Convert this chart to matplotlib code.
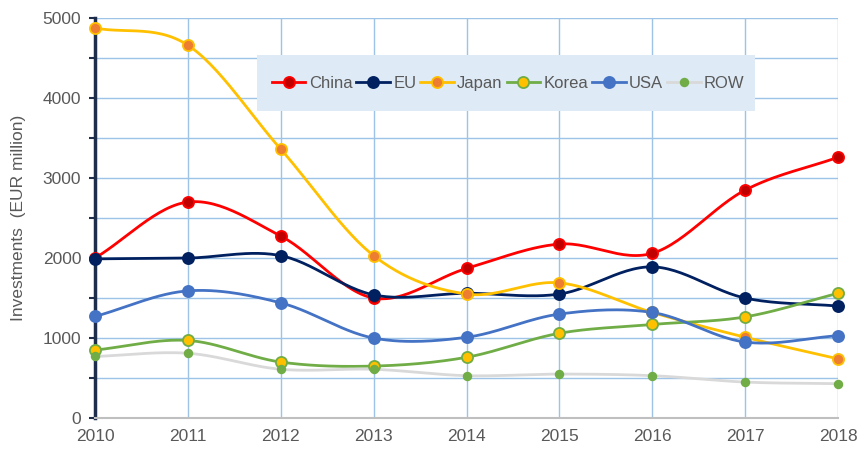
import numpy as np
import matplotlib
matplotlib.use("Agg")
import matplotlib.pyplot as plt
from matplotlib.lines import Line2D
from matplotlib.patches import Rectangle

plt.rcParams["font.family"] = ["Liberation Sans", "DejaVu Sans"]

years = [2010, 2011, 2012, 2013, 2014, 2015, 2016, 2017, 2018]
china = [2000, 2700, 2275, 1500, 1870, 2175, 2060, 2850, 3260]
eu = [1990, 2000, 2030, 1540, 1560, 1550, 1890, 1500, 1400]
japan = [4875, 4660, 3360, 2030, 1550, 1690, 1320, 1010, 740]
korea = [850, 970, 700, 650, 760, 1060, 1170, 1265, 1560]
usa = [1270, 1590, 1440, 1000, 1010, 1300, 1320, 950, 1030]
row = [770, 810, 610, 610, 530, 550, 530, 450, 430]

series = [
    ("China", china, "#FF0000", "#C00000", "#FF0000", 8),
    ("EU", eu, "#002060", "#002060", "#002060", 8),
    ("Japan", japan, "#FFC000", "#ED7D31", "#FFC000", 8),
    ("Korea", korea, "#70AD47", "#FFC000", "#70AD47", 8),
    ("USA", usa, "#4472C4", "#4472C4", "#4472C4", 8),
    ("ROW", row, "#D9D9D9", "#70AD47", "#70AD47", 5.5),
]


def smooth(x, y, n=30):
    # Catmull-Rom style smoothing (like Excel's smoothed lines) for rendering
    x = np.asarray(x, float)
    y = np.asarray(y, float)
    px = np.concatenate([[2 * x[0] - x[1]], x, [2 * x[-1] - x[-2]]])
    py = np.concatenate([[2 * y[0] - y[1]], y, [2 * y[-1] - y[-2]]])
    xs, ys = [], []
    t = np.linspace(0, 1, n)
    for i in range(1, len(px) - 2):
        p0, p1, p2, p3 = py[i - 1], py[i], py[i + 1], py[i + 2]
        q0, q1, q2, q3 = px[i - 1], px[i], px[i + 1], px[i + 2]
        yy = 0.5 * ((2 * p1) + (-p0 + p2) * t + (2 * p0 - 5 * p1 + 4 * p2 - p3) * t ** 2
                    + (-p0 + 3 * p1 - 3 * p2 + p3) * t ** 3)
        xx = 0.5 * ((2 * q1) + (-q0 + q2) * t + (2 * q0 - 5 * q1 + 4 * q2 - q3) * t ** 2
                    + (-q0 + 3 * q1 - 3 * q2 + q3) * t ** 3)
        xs.extend(xx)
        ys.extend(yy)
    return np.array(xs), np.array(ys)


fig = plt.figure(figsize=(8.64, 4.51), dpi=100)
ax = fig.add_axes([0.110, 0.073, 0.860, 0.887])

handles = []
for name, vals, lc, mf, me, ms in series:
    sx, sy = smooth(years, vals)
    ax.plot(sx, sy, color=lc, lw=2.0, zorder=3, clip_on=False, solid_capstyle="round")
    ax.plot(years, vals, ls="none", marker="o", ms=ms, mfc=mf, mec=me, mew=1.3,
            zorder=4, clip_on=False)
    handles.append(Line2D([0], [0], color=lc, lw=2.0, marker="o", ms=ms, mfc=mf,
                          mec=me, mew=1.3, label=name))

ax.set_xlim(2010, 2018)
ax.set_ylim(0, 5000)
ax.set_xticks(years)
ax.set_yticks([0, 1000, 2000, 3000, 4000, 5000])
ax.set_yticks(np.arange(0, 5001, 500), minor=True)
ax.grid(True, which="both", axis="y", color="#9DC3E6", lw=1.0, zorder=0)
ax.grid(True, which="major", axis="x", color="#9DC3E6", lw=1.0, zorder=0)
ax.set_axisbelow(True)

for s in ["top", "right"]:
    ax.spines[s].set_visible(False)
ax.spines["left"].set_color("#1F2D4D")
ax.spines["left"].set_linewidth(2.5)
ax.spines["bottom"].set_color("#BFBFBF")
ax.spines["bottom"].set_linewidth(1.5)

ax.tick_params(axis="y", which="both", direction="out", length=4, width=1.5,
               color="#1F2D4D", labelsize=12.5, labelcolor="#595959", pad=6)
ax.tick_params(axis="x", which="both", length=0, labelsize=12.5,
               labelcolor="#595959", pad=8)
ax.set_ylabel("Investments  (EUR million)", fontsize=12.5, color="#595959", labelpad=12)

# legend background box
ax.add_patch(Rectangle((0.218, 0.7675), 0.670, 0.140, transform=ax.transAxes,
                       facecolor="#DEEAF6", edgecolor="none", zorder=5, clip_on=False))
leg = ax.legend(handles=handles, loc="center left", bbox_to_anchor=(0.218, 0.8375),
                ncol=6, frameon=False, fontsize=12, handlelength=2.0,
                handletextpad=0.2, columnspacing=0.25, borderpad=0.4,
                labelcolor="#595959")
leg.set_zorder(6)

fig.savefig("out.png", dpi=100)
